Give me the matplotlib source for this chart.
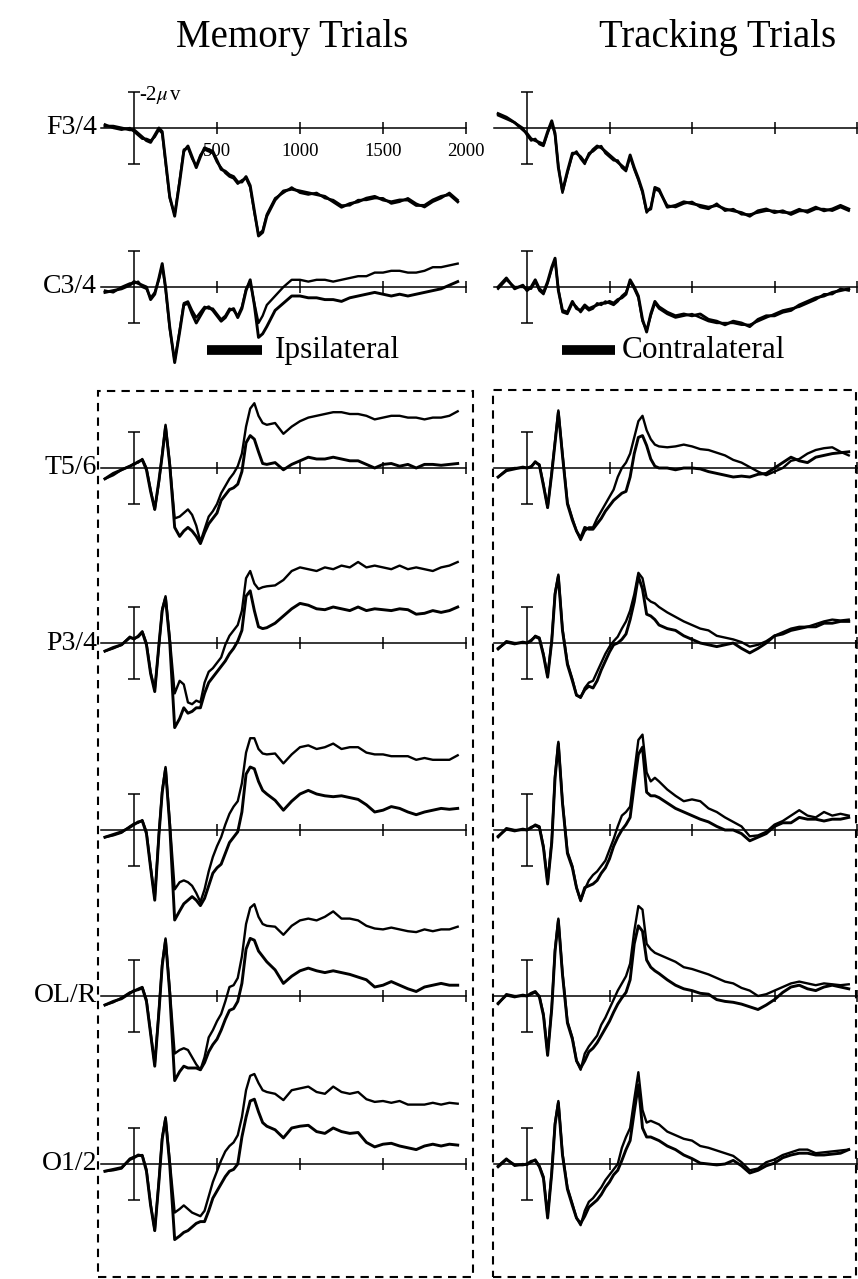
import matplotlib.pyplot as plt
from matplotlib.lines import Line2D
from matplotlib.patches import Rectangle

plt.rcParams['font.family'] = ['Liberation Serif', 'DejaVu Serif']
plt.rcParams['mathtext.fontset'] = 'stix'

# time base (ms) shared by every waveform
times = [-175, -125, -75, -25, 0, 25, 50, 75, 100, 125, 150, 170, 190, 215, 245,
         275, 300, 325, 350, 375, 400, 425, 450, 475, 500, 525, 550, 575, 600, 625,
         650, 675, 700, 725, 750, 775, 800, 850, 900, 950, 1000, 1050, 1100, 1150,
         1200, 1250, 1300, 1350, 1400, 1450, 1500, 1550, 1600, 1650, 1700, 1750,
         1800, 1850, 1900, 1950]

# --- Memory trials (microvolts, negative plotted up) ---
mem_f34_ipsi = [-0.1, -0.1, 0.0, 0.1, 0.1, 0.3, 0.5, 0.7, 0.8, 0.4, 0.0, 0.2, 1.8, 3.8, 4.9, 3.0, 1.3, 1.0, 1.6, 2.2, 1.6, 1.1, 1.2, 1.3, 1.8, 2.3, 2.4, 2.6, 2.7, 3.0, 3.0, 2.7, 3.2, 4.6, 6.0, 5.8, 4.9, 4.0, 3.5, 3.4, 3.5, 3.6, 3.7, 3.8, 4.1, 4.4, 4.2, 4.1, 3.9, 3.8, 4.0, 4.1, 4.0, 4.0, 4.3, 4.3, 4.0, 3.8, 3.7, 4.1]
mem_f34_contra = [-0.2, 0.0, 0.1, 0.0, 0.2, 0.4, 0.6, 0.6, 0.7, 0.5, 0.1, 0.3, 1.9, 3.9, 4.8, 2.9, 1.2, 1.1, 1.7, 2.1, 1.5, 1.2, 1.3, 1.4, 1.9, 2.2, 2.5, 2.7, 2.8, 3.1, 2.9, 2.8, 3.3, 4.7, 5.9, 5.7, 4.8, 3.9, 3.6, 3.3, 3.6, 3.7, 3.6, 3.9, 4.0, 4.3, 4.3, 4.0, 4.0, 3.9, 3.9, 4.2, 4.1, 3.9, 4.2, 4.4, 4.1, 3.9, 3.6, 4.0]

mem_c34_ipsi = [0.3, 0.2, 0.1, -0.1, -0.3, -0.2, -0.1, 0.0, 0.7, 0.4, -0.5, -1.3, 0.0, 2.2, 4.2, 2.5, 1.0, 0.9, 1.5, 2.0, 1.6, 1.2, 1.1, 1.3, 1.6, 1.9, 1.7, 1.3, 1.2, 1.7, 1.2, 0.2, -0.4, 1.0, 2.8, 2.6, 2.2, 1.3, 0.9, 0.5, 0.5, 0.6, 0.6, 0.7, 0.7, 0.8, 0.6, 0.5, 0.4, 0.3, 0.4, 0.5, 0.4, 0.5, 0.4, 0.3, 0.2, 0.1, -0.1, -0.3]
mem_c34_contra = [0.2, 0.3, 0.0, -0.2, -0.2, -0.3, 0.0, 0.1, 0.6, 0.3, -0.4, -1.2, 0.1, 2.3, 4.1, 2.4, 0.9, 0.8, 1.3, 1.7, 1.4, 1.1, 1.2, 1.2, 1.5, 1.8, 1.6, 1.2, 1.3, 1.6, 1.1, 0.1, -0.3, 0.9, 2.0, 1.6, 1.0, 0.5, 0.0, -0.4, -0.4, -0.3, -0.4, -0.4, -0.3, -0.4, -0.5, -0.6, -0.6, -0.8, -0.8, -0.9, -0.9, -0.8, -0.8, -0.9, -1.1, -1.1, -1.2, -1.3]

mem_t56_contra = [0.6, 0.4, 0.1, -0.1, -0.25, -0.3, -0.5, 0.0, 1.2, 2.3, 0.8, -0.8, -2.4, -0.3, 2.8, 2.7, 2.5, 2.3, 2.6, 3.2, 4.1, 3.4, 2.7, 2.4, 2.0, 1.4, 1.0, 0.6, 0.3, -0.1, -0.8, -2.3, -3.3, -3.6, -2.9, -2.5, -2.4, -2.5, -1.9, -2.3, -2.6, -2.8, -2.9, -3.0, -3.1, -3.1, -3.0, -3.0, -2.9, -2.7, -2.8, -2.9, -2.9, -2.8, -2.8, -2.7, -2.8, -2.8, -2.9, -3.15]
mem_t56_ipsi = [0.6, 0.3, 0.1, -0.1, -0.2, -0.35, -0.45, 0.1, 1.3, 2.3, 0.7, -0.7, -2.3, -0.2, 3.3, 3.8, 3.5, 3.3, 3.5, 3.8, 4.2, 3.6, 3.1, 2.8, 2.5, 1.8, 1.5, 1.2, 1.1, 0.9, 0.2, -1.4, -1.8, -1.6, -0.9, -0.25, -0.2, -0.3, 0.1, -0.2, -0.4, -0.6, -0.5, -0.5, -0.6, -0.5, -0.4, -0.4, -0.2, 0.0, -0.2, -0.25, -0.1, -0.2, 0.0, -0.2, -0.2, -0.15, -0.2, -0.25]

mem_p34_contra = [0.45, 0.3, 0.1, -0.35, -0.2, -0.4, -0.65, 0.0, 1.6, 2.6, 0.2, -1.9, -2.6, -0.3, 2.8, 2.1, 2.3, 3.3, 3.4, 3.2, 3.3, 2.2, 1.6, 1.4, 1.1, 0.8, 0.1, -0.4, -0.7, -1.0, -1.8, -3.6, -4.0, -3.3, -3.0, -3.1, -3.15, -3.2, -3.5, -4.0, -4.2, -4.1, -4.0, -4.2, -4.1, -4.3, -4.2, -4.5, -4.2, -4.3, -4.2, -4.1, -4.3, -4.1, -4.2, -4.1, -4.0, -4.2, -4.3, -4.5]
mem_p34_ipsi = [0.45, 0.25, 0.1, -0.3, -0.25, -0.35, -0.6, 0.1, 1.7, 2.7, 0.1, -1.8, -2.5, -0.1, 4.7, 4.2, 3.6, 3.9, 3.8, 3.6, 3.6, 2.8, 2.2, 1.9, 1.6, 1.3, 1.0, 0.6, 0.3, -0.1, -0.7, -2.6, -2.9, -1.8, -0.9, -0.8, -0.85, -1.1, -1.5, -1.9, -2.2, -2.1, -1.9, -1.85, -2.0, -1.9, -1.8, -2.0, -1.8, -1.9, -1.85, -1.8, -1.9, -1.85, -1.6, -1.65, -1.8, -1.7, -1.8, -2.0]

mem_r5_contra = [0.4, 0.3, 0.15, -0.2, -0.35, -0.4, -0.55, 0.1, 2.0, 3.8, 0.2, -2.2, -3.5, -0.5, 3.3, 2.9, 2.8, 2.9, 3.1, 3.5, 4.0, 3.3, 2.3, 1.5, 0.9, 0.4, -0.3, -0.9, -1.3, -1.6, -2.6, -4.3, -5.1, -5.1, -4.5, -4.25, -4.2, -4.25, -3.7, -4.2, -4.6, -4.7, -4.5, -4.6, -4.8, -4.5, -4.6, -4.6, -4.3, -4.2, -4.2, -4.1, -4.1, -4.1, -3.9, -4.0, -3.9, -3.9, -3.9, -4.15]
mem_r5_ipsi = [0.4, 0.25, 0.1, -0.15, -0.3, -0.45, -0.5, 0.2, 2.1, 3.9, 0.3, -2.1, -3.4, -0.3, 5.0, 4.5, 4.1, 3.9, 3.7, 3.9, 4.2, 3.8, 3.1, 2.4, 2.1, 1.9, 1.3, 0.7, 0.4, 0.1, -1.0, -3.1, -3.5, -3.4, -2.7, -2.2, -2.0, -1.65, -1.1, -1.6, -2.0, -2.2, -2.0, -1.9, -1.85, -1.9, -1.8, -1.7, -1.4, -1.0, -1.1, -1.3, -1.2, -1.0, -0.85, -1.0, -1.1, -1.2, -1.15, -1.2]

mem_olr_contra = [0.5, 0.35, 0.1, -0.2, -0.25, -0.4, -0.5, 0.2, 2.0, 3.8, 0.8, -1.8, -3.2, -0.4, 3.2, 3.0, 2.9, 3.0, 3.4, 3.8, 4.1, 3.4, 2.3, 1.9, 1.4, 1.0, 0.3, -0.5, -0.6, -1.0, -2.2, -4.0, -4.9, -5.1, -4.4, -4.0, -3.9, -3.85, -3.4, -3.9, -4.2, -4.3, -4.2, -4.4, -4.7, -4.3, -4.3, -4.2, -3.9, -3.75, -3.7, -3.8, -3.7, -3.6, -3.55, -3.7, -3.6, -3.7, -3.7, -3.85]
mem_olr_ipsi = [0.5, 0.3, 0.15, -0.15, -0.3, -0.35, -0.45, 0.3, 2.1, 3.9, 0.9, -1.7, -3.1, -0.2, 4.7, 4.2, 3.9, 4.0, 4.0, 4.0, 4.1, 3.7, 3.1, 2.7, 2.4, 1.9, 1.3, 0.8, 0.7, 0.3, -0.7, -2.6, -3.2, -3.1, -2.5, -2.2, -1.9, -1.45, -0.7, -1.1, -1.4, -1.55, -1.4, -1.3, -1.4, -1.3, -1.2, -1.05, -0.9, -0.5, -0.6, -0.8, -0.6, -0.4, -0.25, -0.5, -0.6, -0.7, -0.6, -0.6]

mem_o12_contra = [0.4, 0.35, 0.25, -0.3, -0.4, -0.45, -0.5, 0.3, 2.2, 3.7, 0.9, -1.5, -2.6, -0.2, 2.7, 2.5, 2.3, 2.5, 2.7, 2.8, 2.9, 2.6, 1.8, 1.0, 0.4, -0.2, -0.7, -1.0, -1.2, -1.6, -2.6, -4.1, -4.9, -5.0, -4.5, -4.1, -4.0, -3.9, -3.55, -4.1, -4.2, -4.3, -4.0, -3.9, -4.3, -4.0, -3.9, -4.0, -3.6, -3.45, -3.5, -3.4, -3.5, -3.3, -3.3, -3.3, -3.4, -3.3, -3.4, -3.35]
mem_o12_ipsi = [0.4, 0.3, 0.2, -0.25, -0.35, -0.5, -0.45, 0.4, 2.3, 3.7, 1.0, -1.4, -2.5, 0.0, 4.2, 4.0, 3.8, 3.7, 3.5, 3.3, 3.2, 3.2, 2.6, 1.9, 1.5, 1.1, 0.7, 0.4, 0.3, 0.0, -1.5, -2.6, -3.5, -3.6, -2.9, -2.3, -2.1, -1.9, -1.45, -2.0, -2.1, -2.15, -1.8, -1.7, -2.0, -1.8, -1.7, -1.75, -1.2, -0.95, -1.1, -1.15, -1.0, -0.9, -0.8, -1.0, -1.1, -1.0, -1.1, -1.05]

# --- Tracking trials ---
trk_f34_ipsi = [-0.8, -0.6, -0.3, 0.1, 0.3, 0.6, 0.7, 0.8, 0.9, 0.2, -0.4, 0.3, 2.2, 3.5, 2.4, 1.4, 1.4, 1.6, 1.9, 1.5, 1.2, 1.0, 1.1, 1.3, 1.5, 1.7, 1.9, 2.1, 2.3, 1.5, 2.2, 2.8, 3.5, 4.6, 4.5, 3.3, 3.4, 4.4, 4.3, 4.1, 4.2, 4.3, 4.4, 4.3, 4.5, 4.6, 4.7, 4.9, 4.6, 4.5, 4.7, 4.6, 4.8, 4.6, 4.6, 4.4, 4.6, 4.5, 4.3, 4.5]
trk_f34_contra = [-0.7, -0.5, -0.3, 0.0, 0.4, 0.7, 0.6, 0.9, 1.0, 0.3, -0.3, 0.4, 2.1, 3.6, 2.5, 1.5, 1.3, 1.7, 2.0, 1.4, 1.3, 1.1, 1.0, 1.4, 1.6, 1.8, 1.8, 2.2, 2.4, 1.6, 2.3, 2.9, 3.6, 4.7, 4.4, 3.4, 3.5, 4.3, 4.4, 4.2, 4.1, 4.4, 4.5, 4.2, 4.6, 4.5, 4.8, 4.8, 4.7, 4.6, 4.6, 4.7, 4.7, 4.5, 4.7, 4.5, 4.5, 4.6, 4.4, 4.6]

trk_c34_ipsi = [0.0, -0.5, 0.1, -0.1, 0.2, 0.0, -0.4, 0.1, 0.3, -0.3, -1.1, -1.6, 0.2, 1.3, 1.4, 0.8, 1.2, 1.3, 1.0, 1.2, 1.1, 1.0, 0.9, 0.9, 0.8, 0.9, 0.7, 0.6, 0.4, -0.4, 0.0, 0.5, 1.8, 2.5, 1.5, 0.8, 1.1, 1.4, 1.6, 1.5, 1.6, 1.5, 1.8, 1.9, 2.1, 1.9, 2.0, 2.2, 1.8, 1.6, 1.6, 1.4, 1.3, 1.0, 0.8, 0.6, 0.5, 0.3, 0.2, 0.1]
trk_c34_contra = [0.1, -0.4, 0.0, 0.0, 0.1, 0.1, -0.3, 0.2, 0.4, -0.2, -1.0, -1.5, 0.1, 1.4, 1.5, 0.9, 1.1, 1.4, 1.1, 1.3, 1.2, 0.9, 1.0, 0.8, 0.9, 1.0, 0.8, 0.5, 0.3, -0.3, 0.1, 0.6, 1.9, 2.4, 1.6, 0.9, 1.2, 1.5, 1.7, 1.6, 1.5, 1.7, 1.9, 2.0, 2.0, 2.0, 2.1, 2.1, 1.9, 1.7, 1.5, 1.3, 1.2, 1.1, 0.9, 0.7, 0.4, 0.4, 0.1, 0.2]

trk_t56_contra = [0.5, 0.1, 0.0, 0.0, 0.0, -0.1, -0.3, -0.2, 0.9, 2.2, 0.2, -1.5, -3.2, -0.8, 1.9, 2.8, 3.5, 4.0, 3.5, 3.3, 3.3, 2.8, 2.4, 2.0, 1.6, 1.2, 0.5, 0.0, -0.3, -0.8, -1.7, -2.6, -2.9, -2.1, -1.6, -1.3, -1.2, -1.15, -1.2, -1.3, -1.2, -1.05, -1.0, -0.85, -0.7, -0.45, -0.3, -0.05, 0.2, 0.4, 0.2, 0.0, -0.4, -0.5, -0.8, -1.0, -1.1, -1.15, -0.9, -0.7]
trk_t56_ipsi = [0.5, 0.15, 0.05, -0.05, 0.0, -0.05, -0.35, -0.15, 1.0, 2.2, 0.3, -1.4, -3.1, -0.7, 2.0, 2.9, 3.5, 3.9, 3.3, 3.4, 3.4, 3.1, 2.8, 2.4, 2.1, 1.8, 1.6, 1.4, 1.3, 0.5, -0.8, -1.7, -1.8, -1.25, -0.5, -0.1, 0.0, 0.0, 0.1, 0.0, 0.0, 0.05, 0.2, 0.3, 0.4, 0.5, 0.45, 0.5, 0.35, 0.3, 0.0, -0.3, -0.6, -0.4, -0.3, -0.6, -0.7, -0.8, -0.85, -0.9]

trk_p34_contra = [0.35, -0.1, 0.0, 0.0, 0.0, -0.1, -0.4, -0.3, 0.6, 1.85, -0.2, -2.8, -3.8, -0.8, 1.1, 2.0, 2.9, 3.05, 2.5, 2.2, 2.1, 1.6, 1.1, 0.6, 0.2, -0.1, -0.35, -0.8, -1.2, -1.8, -2.7, -3.9, -3.6, -2.5, -2.3, -2.2, -2.0, -1.7, -1.45, -1.2, -1.0, -0.8, -0.7, -0.4, -0.3, -0.2, -0.05, 0.2, 0.1, -0.1, -0.4, -0.6, -0.8, -0.9, -0.9, -1.05, -1.2, -1.3, -1.25, -1.3]
trk_p34_ipsi = [0.3, -0.05, 0.05, -0.05, 0.0, -0.15, -0.35, -0.25, 0.7, 1.9, -0.1, -2.7, -3.7, -0.7, 1.2, 2.1, 2.9, 3.0, 2.6, 2.4, 2.5, 2.1, 1.5, 1.0, 0.5, 0.1, 0.0, -0.2, -0.5, -1.3, -2.3, -3.7, -3.0, -1.6, -1.5, -1.3, -1.0, -0.8, -0.7, -0.4, -0.2, 0.0, 0.1, 0.2, 0.1, 0.0, 0.3, 0.55, 0.3, 0.0, -0.4, -0.5, -0.7, -0.8, -0.9, -0.9, -1.1, -1.1, -1.2, -1.2]

trk_r5_contra = [0.4, -0.1, 0.0, 0.0, 0.0, -0.1, -0.3, -0.2, 0.9, 2.9, 0.6, -3.0, -4.9, -1.6, 1.2, 2.0, 3.2, 3.95, 3.3, 2.8, 2.5, 2.3, 2.0, 1.7, 1.1, 0.5, -0.2, -0.8, -1.0, -1.3, -3.2, -5.0, -5.3, -3.2, -2.7, -2.9, -2.7, -2.25, -1.9, -1.6, -1.7, -1.6, -1.2, -1.0, -0.7, -0.45, -0.2, 0.35, 0.3, 0.1, -0.3, -0.5, -0.8, -1.1, -0.8, -0.7, -1.0, -0.8, -0.9, -0.8]
trk_r5_ipsi = [0.35, -0.05, 0.05, -0.05, 0.0, -0.15, -0.25, -0.15, 1.0, 3.0, 0.7, -2.9, -4.8, -1.5, 1.3, 2.1, 3.2, 3.9, 3.2, 3.1, 3.0, 2.8, 2.4, 2.1, 1.6, 0.9, 0.4, 0.0, -0.3, -0.7, -2.5, -4.2, -4.6, -2.1, -1.9, -1.9, -1.8, -1.5, -1.2, -1.0, -0.8, -0.6, -0.45, -0.2, 0.0, 0.0, 0.2, 0.6, 0.4, 0.2, -0.2, -0.4, -0.4, -0.7, -0.6, -0.6, -0.5, -0.6, -0.6, -0.7]

trk_olr_contra = [0.45, -0.1, 0.0, 0.0, 0.0, -0.1, -0.2, 0.0, 1.0, 3.2, 0.6, -2.6, -4.3, -1.3, 1.4, 2.3, 3.6, 4.1, 3.2, 2.8, 2.5, 2.2, 1.6, 1.2, 0.7, 0.2, -0.3, -0.7, -1.1, -1.8, -3.6, -5.0, -4.8, -2.9, -2.6, -2.4, -2.3, -2.1, -1.9, -1.6, -1.5, -1.35, -1.2, -1.0, -0.8, -0.7, -0.45, -0.3, 0.0, -0.1, -0.3, -0.5, -0.7, -0.8, -0.7, -0.6, -0.7, -0.65, -0.6, -0.65]
trk_olr_ipsi = [0.4, -0.05, 0.05, -0.05, 0.0, -0.15, -0.25, 0.05, 1.1, 3.3, 0.7, -2.5, -4.2, -1.2, 1.5, 2.4, 3.6, 4.0, 3.6, 3.1, 2.9, 2.6, 2.2, 1.8, 1.4, 0.9, 0.45, 0.1, -0.2, -0.9, -2.9, -3.9, -3.6, -2.0, -1.6, -1.4, -1.25, -0.9, -0.6, -0.4, -0.3, -0.15, -0.1, 0.2, 0.3, 0.35, 0.45, 0.6, 0.75, 0.5, 0.2, -0.2, -0.5, -0.6, -0.4, -0.3, -0.5, -0.6, -0.5, -0.4]

trk_o12_contra = [0.1, -0.3, 0.1, 0.0, 0.05, -0.1, -0.25, 0.1, 0.7, 2.9, 0.4, -2.3, -3.5, -0.6, 1.3, 2.2, 3.0, 3.4, 2.6, 2.1, 1.9, 1.6, 1.3, 0.9, 0.6, 0.3, 0.0, -0.9, -1.5, -2.0, -3.6, -5.1, -3.0, -2.3, -2.4, -2.3, -2.2, -1.8, -1.6, -1.4, -1.3, -1.0, -0.9, -0.75, -0.6, -0.45, -0.1, 0.35, 0.25, -0.1, -0.25, -0.5, -0.65, -0.8, -0.8, -0.6, -0.65, -0.7, -0.75, -0.8]
trk_o12_ipsi = [0.15, -0.25, 0.05, 0.05, 0.0, -0.15, -0.2, 0.15, 0.8, 3.0, 0.5, -2.2, -3.4, -0.5, 1.4, 2.3, 3.0, 3.3, 2.9, 2.4, 2.2, 2.0, 1.7, 1.3, 1.0, 0.6, 0.35, -0.2, -0.8, -1.3, -2.9, -4.4, -2.0, -1.5, -1.5, -1.4, -1.3, -1.0, -0.8, -0.5, -0.3, -0.05, 0.0, 0.05, 0.0, -0.2, 0.1, 0.5, 0.35, 0.1, -0.05, -0.35, -0.5, -0.6, -0.6, -0.5, -0.5, -0.55, -0.6, -0.8]

electrodes = ['F3/4', 'C3/4', 'T5/6', 'P3/4', '', 'OL/R', 'O1/2']
memory = [(mem_f34_ipsi, mem_f34_contra), (mem_c34_ipsi, mem_c34_contra),
          (mem_t56_ipsi, mem_t56_contra), (mem_p34_ipsi, mem_p34_contra),
          (mem_r5_ipsi, mem_r5_contra), (mem_olr_ipsi, mem_olr_contra),
          (mem_o12_ipsi, mem_o12_contra)]
tracking = [(trk_f34_ipsi, trk_f34_contra), (trk_c34_ipsi, trk_c34_contra),
            (trk_t56_ipsi, trk_t56_contra), (trk_p34_ipsi, trk_p34_contra),
            (trk_r5_ipsi, trk_r5_contra), (trk_olr_ipsi, trk_olr_contra),
            (trk_o12_ipsi, trk_o12_contra)]

# layout in pixels
W, H = 858, 1279
row_zero_px = [128, 287, 468, 643, 830, 996, 1164]
PX_PER_UV = 18
columns = [(134, 0.166, memory), (527, 0.165, tracking)]

fig = plt.figure(figsize=(W / 100, H / 100), dpi=100)


def make_panel(t0_px, px_per_ms, y0_px):
    left = t0_px - 200 * px_per_ms
    width = 2200 * px_per_ms
    h = 13 * PX_PER_UV
    bottom = H - y0_px - h / 2
    ax = fig.add_axes([left / W, bottom / H, width / W, h / H])
    ax.set_xlim(-200, 2000)
    ax.set_ylim(6.5, -6.5)  # negative up
    ax.patch.set_visible(False)
    for side in ('top', 'right', 'left'):
        ax.spines[side].set_visible(False)
    ax.spines['bottom'].set_position(('data', 0))
    ax.spines['bottom'].set_linewidth(1.1)
    ax.set_yticks([])
    ax.set_xticks([500, 1000, 1500, 2000])
    ax.tick_params(axis='x', direction='inout', length=9, width=1.1,
                   labelbottom=False)
    # -2 / +2 microvolt calibration bar at stimulus onset
    ax.errorbar([0], [0], yerr=2, fmt='none', ecolor='black',
                elinewidth=1.1, capsize=4, capthick=1.1)
    return ax


for ci, (t0_px, px_per_ms, data) in enumerate(columns):
    for ri, (ipsi, contra) in enumerate(data):
        ax = make_panel(t0_px, px_per_ms, row_zero_px[ri])
        ax.plot(times, ipsi, color='black', lw=2.1, zorder=3, clip_on=False,
                solid_joinstyle='round')
        ax.plot(times, contra, color='black', lw=1.7, zorder=3, clip_on=False,
                solid_joinstyle='round')
        if ci == 0 and ri == 0:
            ax.tick_params(axis='x', labelbottom=True, labelsize=13.5, pad=6)
            ax.set_xticklabels(['500', '1000', '1500', '2000'])
            ax.text(30, -1.85, r'-2$\mu\,$v', fontsize=15, ha='left', va='center')

# electrode labels
for lab, y in zip(electrodes, row_zero_px):
    if lab:
        fig.text(97 / W, 1 - y / H, lab, ha='right', va='center', fontsize=20)

# column titles
fig.text(292 / W, 1 - 38 / H, 'Memory Trials', ha='center', va='center', fontsize=28)
fig.text(718 / W, 1 - 38 / H, 'Tracking Trials', ha='center', va='center', fontsize=28)

# legend bars + text
for x1, x2, xt, txt in [(207, 262, 275, 'Ipsilateral'), (562, 615, 622, 'Contralateral')]:
    fig.add_artist(Line2D([x1 / W, x2 / W], [1 - 350 / H, 1 - 350 / H],
                          color='black', lw=7, solid_capstyle='butt'))
    fig.text(xt / W, 1 - 358 / H, txt, ha='left', va='baseline', fontsize=22.5)

# dashed boxes around posterior sites
for x1, x2, y1, y2 in [(98, 473, 391, 1277), (493, 856, 390, 1277)]:
    fig.add_artist(Rectangle((x1 / W, 1 - y2 / H), (x2 - x1) / W, (y2 - y1) / H,
                             fill=False, ls=(0, (4, 3)), lw=1.5, color='black',
                             transform=fig.transFigure))

fig.savefig('out.png', dpi=100)
